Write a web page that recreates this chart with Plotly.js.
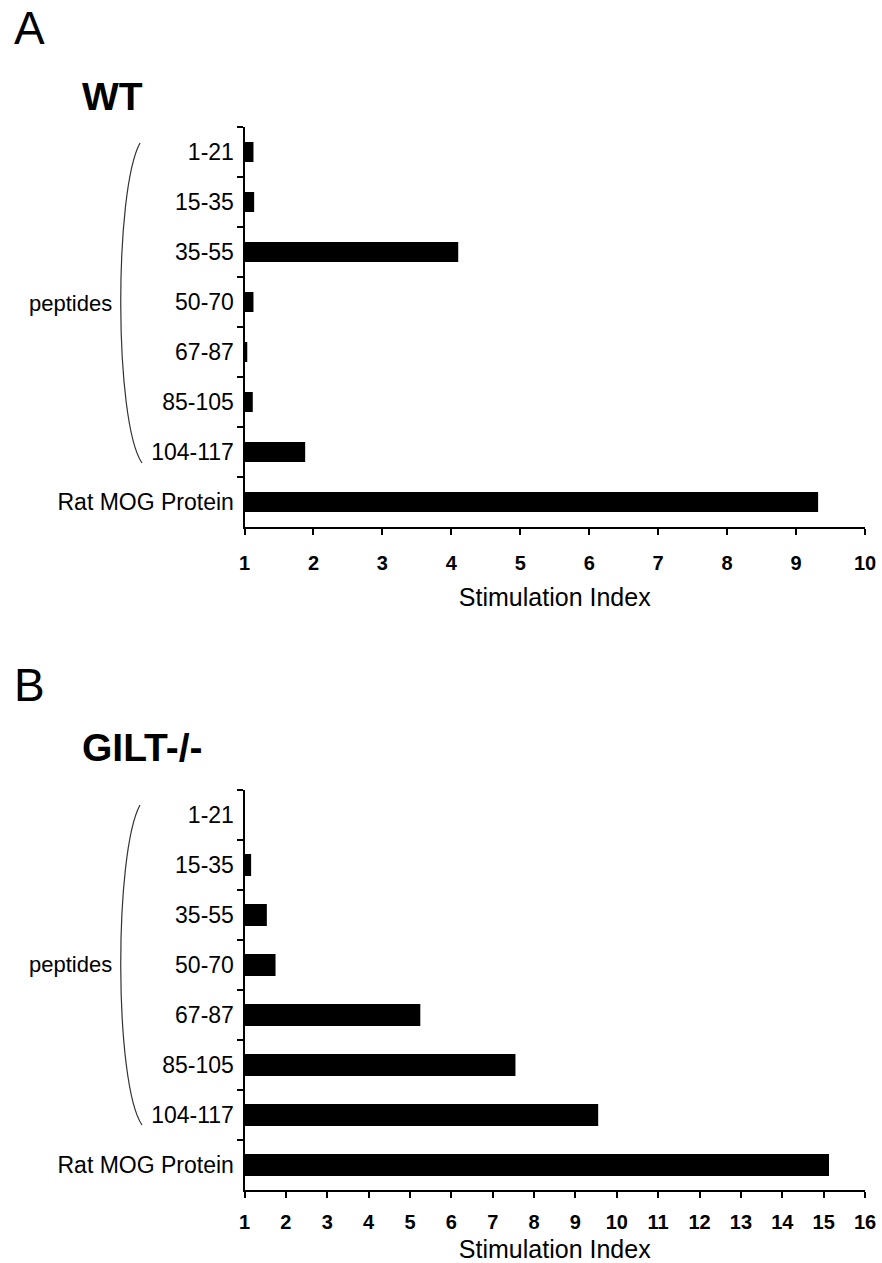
<!DOCTYPE html>
<html>
<head>
<meta charset="utf-8">
<script src="https://cdn.plot.ly/plotly-3.0.1.min.js"></script>
<style>html,body{margin:0;padding:0;background:#fff;}#chart{width:882px;height:1263px;}</style>
</head>
<body>
<div id="chart"></div>
<script>
// ---- data ----
const categories = ['1-21', '15-35', '35-55', '50-70', '67-87', '85-105', '104-117', 'Rat MOG Protein'];
const wtValues = [1.13, 1.14, 4.10, 1.13, 1.04, 1.12, 1.88, 9.32];
const giltValues = [1.00, 1.16, 1.54, 1.75, 5.25, 7.55, 9.55, 15.13];
const wtTicks = [1, 2, 3, 4, 5, 6, 7, 8, 9, 10];
const giltTicks = [1, 2, 3, 4, 5, 6, 7, 8, 9, 10, 11, 12, 13, 14, 15, 16];
const panelLabels = ['A', 'B'];
const panelTitles = ['WT', 'GILT-/-'];
const groupLabel = 'peptides';
const axisTitle = 'Stimulation Index';

// ---- layout helpers (pixel -> paper) ----
const W = 882, H = 1263;
const px = v => v / W;
const py = v => 1 - v / H;
const FONT = '"Liberation Sans", Arial, Helvetica, sans-serif';

function bracketPath(top, bottom) {
  const xTop = 140, xBot = 142, ctrl = 114;
  const c1 = top + (bottom - top) * 0.15, c2 = top + (bottom - top) * 0.87;
  return 'M ' + px(xTop) + ',' + py(top) +
    ' C ' + px(ctrl) + ',' + py(c1) + ' ' + px(ctrl) + ',' + py(c2) + ' ' + px(xBot) + ',' + py(bottom);
}

const traces = [
  {type: 'bar', orientation: 'h', x: wtValues, y: categories, xaxis: 'x', yaxis: 'y',
   width: 0.4, marker: {color: '#000', line: {width: 0}}, showlegend: false, hoverinfo: 'x+y'},
  {type: 'bar', orientation: 'h', x: giltValues, y: categories, xaxis: 'x2', yaxis: 'y2',
   width: 0.44, marker: {color: '#000', line: {width: 0}}, showlegend: false, hoverinfo: 'x+y'}
];

function xAxis(ticks, anchor, labelStandoff, titleStandoff) {
  return {
    domain: [px(244.5), px(865)], anchor: anchor,
    range: [ticks[0], ticks[ticks.length - 1]],
    tickmode: 'array', tickvals: ticks, ticktext: ticks.map(String),
    ticks: 'outside', ticklen: 6, tickwidth: 2, tickcolor: '#000',
    showline: true, linewidth: 2, linecolor: '#000',
    showgrid: false, zeroline: false, fixedrange: true,
    ticklabelstandoff: labelStandoff,
    tickfont: {family: FONT, size: 20, color: '#000', weight: 'bold'},
    title: {text: axisTitle, font: {family: FONT, size: 25, color: '#000'}, standoff: titleStandoff}
  };
}
function yAxis(top, bottom, anchor) {
  return {
    domain: [py(bottom), py(top)], anchor: anchor,
    type: 'category', categoryorder: 'array', categoryarray: categories,
    range: [categories.length - 0.5, -0.5],
    tickson: 'boundaries', ticks: 'outside', ticklen: 6, tickwidth: 2, tickcolor: '#000',
    showline: true, linewidth: 2, linecolor: '#000',
    showgrid: false, zeroline: false, fixedrange: true,
    ticklabelstandoff: 4,
    tickfont: {family: FONT, size: 23, color: '#000'}
  };
}

function ann(text, x, y, size, bold, xanchor) {
  return {text: text, xref: 'paper', yref: 'paper', x: px(x), y: py(y),
    xanchor: xanchor || 'left', yanchor: 'middle', showarrow: false,
    font: {family: FONT, size: size, color: '#000', weight: bold ? 'bold' : 'normal'}};
}

const layout = {
  width: W, height: H,
  margin: {l: 0, r: 0, t: 0, b: 0, pad: 0},
  paper_bgcolor: '#fff', plot_bgcolor: '#fff',
  showlegend: false, bargap: 0.6,
  xaxis: xAxis(wtTicks, 'y', 11, 15),
  yaxis: yAxis(127, 527, 'x'),
  xaxis2: xAxis(giltTicks, 'y2', 7, 15),
  yaxis2: yAxis(790, 1190, 'x2'),
  shapes: [
    {type: 'path', xref: 'paper', yref: 'paper', path: bracketPath(143, 463), line: {color: '#333', width: 1.2}},
    {type: 'path', xref: 'paper', yref: 'paper', path: bracketPath(805, 1125), line: {color: '#333', width: 1.2}}
  ],
  annotations: [
    ann(panelLabels[0], 12, 28, 46, false),
    ann(panelTitles[0], 80, 97, 39, true),
    ann(groupLabel, 114, 303, 22, false, 'right'),
    ann(panelLabels[1], 12, 685, 46, false),
    ann(panelTitles[1], 80, 747, 39, true),
    ann(groupLabel, 114, 964, 22, false, 'right')
  ]
};

Plotly.newPlot('chart', traces, layout, {staticPlot: true, displayModeBar: false});
</script>
</body>
</html>
